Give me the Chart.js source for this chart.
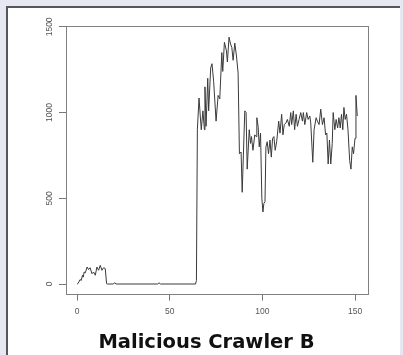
<!DOCTYPE html>
<html>
<head>
<meta charset="utf-8">
<script src="https://cdn.jsdelivr.net/npm/chart.js@4/dist/chart.umd.min.js"></script>
<style>
  html, body { margin: 0; padding: 0; background: #e7e7f2; width: 403px; height: 355px; overflow: hidden; }
  #panel { position: absolute; left: 6px; top: 6px; width: 394px; height: 360px; background: #ffffff;
           border-left: 2px solid #555560; border-top: 2px solid #555560; box-sizing: border-box; }
  #c { position: absolute; left: 0; top: 0; }
</style>
</head>
<body>
<div id="panel"></div>
<canvas id="c" width="403" height="355"></canvas>
<script>
const chartTitle = "Malicious Crawler B";
const xTicks = [0, 50, 100, 150];
const yTicks = [0, 500, 1000, 1500];
const timeX = [
  0, 0.5, 1.6, 2.2, 2.9, 3.3, 3.8, 4.4, 5.4, 6.2, 7.0, 8.0, 8.9, 9.8, 10.7, 11.6, 12.5, 13.4, 14.3, 15.2, 15.9,
  16.3, 19.6, 20.3, 21.0, 43.5, 44.2, 45.0, 63.9, 64.4, 64.9, 65.8,
  67.0, 67.9, 68.7, 69.0, 69.6, 70.5, 71.0, 72.1, 72.8, 73.7, 75.0, 76.1, 77.0, 78.1, 78.6, 79.5,
  80.6, 81.1, 82.0, 82.8, 83.5, 84.2, 85.1, 86.0, 86.9, 87.6, 88.5, 89.1, 90.5, 91.2, 91.8, 92.9,
  93.6, 94.1, 94.9, 95.9, 96.6, 97.0, 97.7, 98.3, 99.0, 99.7, 100.3, 100.8, 101.4, 101.9, 102.6,
  103.3, 104.1, 104.8, 105.5, 106.2, 106.9, 107.7, 108.8, 109.5, 110.4, 111.1, 111.8, 112.7, 113.5,
  114.5, 115.3, 115.8, 116.7, 117.4, 118.2, 118.9, 119.8, 120.7, 121.6, 122.1, 122.9, 123.9, 124.7,
  125.6, 126.1, 127.2, 127.9, 129.0, 129.7, 130.6, 131.5, 132.4, 133.3, 134.1, 134.8, 135.5, 136.2,
  136.9, 137.7, 138.2, 139.1, 139.8, 140.6, 141.3, 142.0, 142.7, 143.4, 144.0, 144.7, 145.4, 146.2,
  147.1, 147.8, 148.5, 149.2, 150.0, 150.5, 151.2
];
const requests = [
  0, 3, 26, 20, 51, 40, 70, 65, 99, 84, 95, 60, 70, 51, 99, 80, 109, 80, 95, 90, 2,
  0, 0, 8, 0, 0, 7, 0, 0, 20, 900, 1085,
  900, 1010, 900, 1150, 920, 1200, 1010, 1260, 1285, 1180, 950, 1100, 1080, 1350, 1240, 1410,
  1360, 1295, 1440, 1400, 1380, 1305, 1405, 1330, 1230, 760, 770, 535, 1010, 1000, 670, 900,
  820, 860, 780, 870, 860, 970, 920, 800, 880, 500, 420, 470, 480, 800, 830,
  760, 840, 740, 850, 860, 780, 830, 950, 880, 990, 870, 930, 940, 960,
  920, 1000, 930, 1010, 900, 990, 920, 960, 1000, 950, 1000, 930, 1000, 960,
  980, 940, 710, 900, 970, 950, 930, 1020, 930, 970, 870, 880, 700, 840,
  700, 820, 1000, 900, 960, 910, 970, 910, 990, 900, 1030, 960, 990, 900,
  720, 670, 800, 760, 850, 1100, 980
];

const points = timeX.map((x, i) => ({ x: x, y: requests[i] }));

const framePlugin = {
  id: 'frame',
  afterDraw(chart) {
    const ctx = chart.ctx, a = chart.chartArea, ys = chart.scales.y;
    ctx.save();
    ctx.strokeStyle = '#808080';
    ctx.lineWidth = 1;
    ctx.strokeRect(Math.round(a.left) + 0.5, Math.round(a.top) + 0.5,
                   Math.round(a.right - a.left), Math.round(a.bottom - a.top));
    ctx.font = '8.5px "Liberation Sans", Arial, sans-serif';
    ctx.fillStyle = '#555555';
    ctx.textAlign = 'center';
    ctx.textBaseline = 'middle';
    ys.ticks.forEach(t => {
      const py = ys.getPixelForValue(t.value);
      ctx.save();
      ctx.translate(a.left - 16, py);
      ctx.rotate(-Math.PI / 2);
      ctx.fillText(String(t.value), 0, 0);
      ctx.restore();
    });
    ctx.restore();
  }
};

new Chart(document.getElementById('c'), {
  type: 'line',
  data: {
    datasets: [{
      data: points,
      borderColor: '#3a3a3a',
      borderWidth: 1,
      pointRadius: 0,
      tension: 0,
      fill: false
    }]
  },
  options: {
    responsive: false,
    animation: false,
    layout: { padding: { left: 45, top: 26, right: 35, bottom: 0 } },
    plugins: {
      legend: { display: false },
      tooltip: { enabled: false },
      title: {
        display: true,
        text: chartTitle,
        position: 'bottom',
        color: '#111111',
        font: { family: '"DejaVu Sans", sans-serif', size: 19.5, weight: 'bold', lineHeight: 1.2 },
        padding: { top: 0, bottom: 0 }
      }
    },
    scales: {
      x: {
        type: 'linear',
        min: -6,
        max: 157,
        afterBuildTicks: s => { s.ticks = xTicks.map(v => ({ value: v })); },
        afterFit: s => { s.height = 38; },
        grid: { drawOnChartArea: false, drawTicks: true, tickLength: 7, color: '#777777', lineWidth: 1 },
        border: { display: false },
        ticks: {
          color: '#555555',
          font: { family: '"Liberation Sans", Arial, sans-serif', size: 8.5 },
          padding: 6,
          maxRotation: 0,
          minRotation: 0
        }
      },
      y: {
        type: 'linear',
        min: -56,
        max: 1505,
        afterBuildTicks: s => { s.ticks = yTicks.map(v => ({ value: v })); },
        afterFit: s => { s.width = 21; },
        grid: { drawOnChartArea: false, drawTicks: true, tickLength: 7, color: '#777777', lineWidth: 1 },
        border: { display: false },
        ticks: { display: false }
      }
    }
  },
  plugins: [framePlugin]
});
</script>
</body>
</html>
